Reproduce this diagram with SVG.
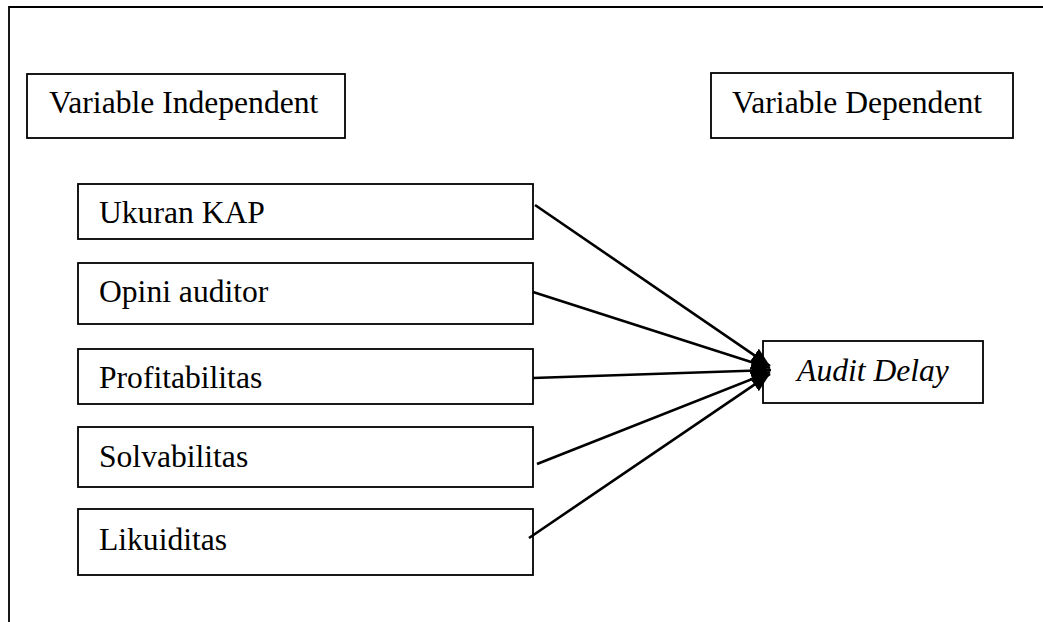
<svg xmlns="http://www.w3.org/2000/svg" width="1043" height="622" viewBox="0 0 1043 622">
<style>
.box{fill:#fff;stroke:#000;stroke-width:1.8}
.t{font-family:"Liberation Serif","Times New Roman",serif;font-size:31.6px;fill:#000}
.it{font-style:italic}
.c{stroke:#000;stroke-width:2.6;fill:none;marker-end:url(#ah)}
</style>
<defs>
<marker id="ah" markerUnits="userSpaceOnUse" markerWidth="22" markerHeight="18" refX="19" refY="8" orient="auto">
<path d="M0,0 L19,8 L0,16 Z" fill="#000"/>
</marker>
</defs>
<rect width="1043" height="622" fill="#fff"/>
<g id="frame">
<path d="M9,622 L9,7 L1043,7" fill="none" stroke="#000" stroke-width="1.8"/>
</g>
<g id="hdr-independent"><rect class="box" x="27" y="74" width="318" height="64"/><text class="t" x="49" y="113">Variable Independent</text></g>
<g id="hdr-dependent"><rect class="box" x="711" y="73" width="302" height="65"/><text class="t" x="732" y="113">Variable Dependent</text></g>
<g id="n-ukuran"><rect class="box" x="78" y="184" width="455" height="55"/><text class="t" x="99" y="223">Ukuran KAP</text></g>
<g id="n-opini"><rect class="box" x="78" y="263" width="455" height="61"/><text class="t" x="99" y="302">Opini auditor</text></g>
<g id="n-profit"><rect class="box" x="78" y="349" width="455" height="55"/><text class="t" x="99" y="388">Profitabilitas</text></g>
<g id="n-solv"><rect class="box" x="78" y="427" width="455" height="60"/><text class="t" x="99" y="467">Solvabilitas</text></g>
<g id="n-likuid"><rect class="box" x="78" y="509" width="455" height="66"/><text class="t" x="99" y="550">Likuiditas</text></g>
<g id="n-audit"><rect class="box" x="763" y="341" width="220" height="62"/><text class="t it" x="873" y="381" text-anchor="middle">Audit Delay</text></g>
<g id="connectors">
<line class="c" x1="535" y1="205" x2="770" y2="366"/>
<line class="c" x1="533" y1="292" x2="770" y2="368"/>
<line class="c" x1="533" y1="378" x2="771" y2="370"/>
<line class="c" x1="537" y1="464" x2="770" y2="372"/>
<line class="c" x1="529" y1="538" x2="770" y2="374"/>
</g>
</svg>
